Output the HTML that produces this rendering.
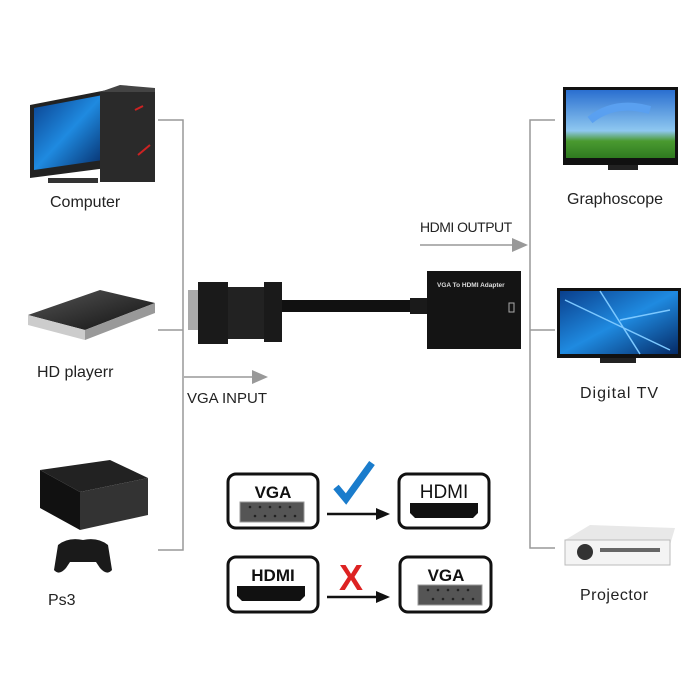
<!DOCTYPE html>
<html><head><style>
html,body{margin:0;padding:0;background:#fff}
svg{display:block}
text{font-family:"Liberation Sans",sans-serif}
</style></head><body>
<svg width="700" height="700" viewBox="0 0 700 700" xmlns="http://www.w3.org/2000/svg">
<defs>
<linearGradient id="scr" x1="0" y1="0" x2="1" y2="1"><stop offset="0" stop-color="#0a3f8c"/><stop offset=".5" stop-color="#1f8ae0"/><stop offset="1" stop-color="#052a66"/></linearGradient>
<linearGradient id="sky" x1="0" y1="0" x2="0" y2="1"><stop offset="0" stop-color="#2a6fd0"/><stop offset=".6" stop-color="#8fc8f0"/><stop offset=".75" stop-color="#4a9a30"/><stop offset="1" stop-color="#2f7a20"/></linearGradient>
<linearGradient id="blk" x1="0" y1="0" x2="1" y2="1"><stop offset="0" stop-color="#555"/><stop offset="1" stop-color="#111"/></linearGradient>
</defs>
<g stroke="#999" stroke-width="1.5" fill="none">
<path d="M158 120H183V550H158M158 330H183"/>
<path d="M555 120H530V548H555M555 330H530"/>
<path d="M184 377H255"/>
<path d="M420 245H515"/>
</g>
<polygon points="252,370 268,377 252,384" fill="#999"/>
<polygon points="512,238 528,245 512,252" fill="#999"/>
<text x="187" y="403" font-size="15" fill="#222">VGA INPUT</text>
<text x="420" y="232" font-size="14" fill="#222" letter-spacing="-0.5">HDMI OUTPUT</text>
<!-- computer -->
<polygon points="30,105 107,90 107,168 30,178" fill="#222"/>
<polygon points="34,108 103,95 103,160 34,170" fill="url(#scr)"/>
<rect x="48" y="178" width="50" height="5" fill="#333"/>
<rect x="100" y="92" width="55" height="90" fill="#2a2a2a"/>
<polygon points="100,92 120,85 155,88 155,92" fill="#444"/>
<path d="M135 110l8 -4M138 155l12-10" stroke="#c22" stroke-width="2"/>
<text x="50" y="207" font-size="16" fill="#222">Computer</text>
<!-- HD player -->
<polygon points="28,315 100,290 155,303 85,330" fill="url(#blk)"/>
<polygon points="28,315 85,330 85,340 28,325" fill="#ccc"/>
<polygon points="85,330 155,303 155,313 85,340" fill="#999"/>
<text x="37" y="377" font-size="16" fill="#222">HD playerr</text>
<!-- PS3 -->
<polygon points="40,470 110,460 148,478 80,492" fill="#222"/>
<polygon points="40,470 80,492 80,530 40,508" fill="#111"/>
<polygon points="80,492 148,478 148,515 80,530" fill="#333"/>
<path d="M58 545q10-8 25-5q15-3 25 5l4 25q-5 6-12-2l-4-6h-26l-4 6q-7 8-12 2z" fill="#1a1a1a"/>
<text x="48" y="605" font-size="16" fill="#222">Ps3</text>
<!-- Graphoscope -->
<rect x="563" y="87" width="115" height="78" fill="#111"/>
<rect x="566" y="90" width="109" height="68" fill="url(#sky)"/>
<path d="M590 120q25-20 60-10" stroke="#5aa0f0" stroke-width="8" fill="none"/>
<rect x="608" y="165" width="30" height="5" fill="#222"/>
<text x="567" y="204" font-size="16" fill="#222">Graphoscope</text>
<!-- Digital TV -->
<rect x="557" y="288" width="124" height="70" fill="#111"/>
<rect x="560" y="291" width="118" height="63" fill="url(#scr)"/>
<path d="M565 300L670 350M600 291L640 354M620 320l50-10" stroke="#7cc8ff" stroke-width="1.5"/>
<rect x="600" y="358" width="36" height="5" fill="#222"/>
<text x="580" y="398" font-size="16" fill="#222" letter-spacing="1">Digital TV</text>
<!-- Projector -->
<polygon points="565,540 590,525 675,528 670,545" fill="#e8e8e8"/>
<rect x="565" y="540" width="105" height="25" fill="#f4f4f4" stroke="#bbb"/>
<circle cx="585" cy="552" r="8" fill="#333"/>
<rect x="600" y="548" width="60" height="4" fill="#666"/>
<text x="580" y="600" font-size="16" fill="#222" letter-spacing="0.5">Projector</text>
<!-- cable + adapter -->
<rect x="188" y="290" width="10" height="40" fill="#aaa"/>
<rect x="198" y="282" width="30" height="62" fill="#1a1a1a"/>
<rect x="228" y="287" width="36" height="52" fill="#222"/>
<rect x="264" y="282" width="18" height="60" fill="#1a1a1a"/>
<rect x="282" y="300" width="130" height="12" fill="#111"/>
<rect x="410" y="298" width="18" height="16" fill="#1a1a1a"/>
<rect x="427" y="271" width="94" height="78" fill="#141414"/>
<text x="437" y="287" font-size="6.5" font-weight="bold" fill="#ddd">VGA To HDMI Adapter</text>
<rect x="509" y="303" width="5" height="9" fill="none" stroke="#aaa"/>
<!-- bottom icons -->
<g fill="none" stroke="#111" stroke-width="3">
<rect x="228" y="474" width="90" height="54" rx="8"/>
<rect x="399" y="474" width="90" height="54" rx="8"/>
<rect x="228" y="557" width="90" height="55" rx="8"/>
<rect x="400" y="557" width="91" height="55" rx="8"/>
</g>
<g font-weight="bold" font-size="17" fill="#111" text-anchor="middle">
<text x="273" y="498">VGA</text>
<text x="444" y="498" font-weight="normal" font-size="19">HDMI</text>
<text x="273" y="581">HDMI</text>
<text x="446" y="581">VGA</text>
</g>
<rect x="240" y="502" width="64" height="20" fill="#555" stroke="#999"/>
<rect x="418" y="585" width="64" height="20" fill="#555" stroke="#999"/>
<g fill="#222"><circle cx="250" cy="507" r="1.3"/><circle cx="260" cy="507" r="1.3"/><circle cx="270" cy="507" r="1.3"/><circle cx="280" cy="507" r="1.3"/><circle cx="290" cy="507" r="1.3"/><circle cx="255" cy="516" r="1.3"/><circle cx="265" cy="516" r="1.3"/><circle cx="275" cy="516" r="1.3"/><circle cx="285" cy="516" r="1.3"/><circle cx="295" cy="516" r="1.3"/>
<circle cx="428" cy="590" r="1.3"/><circle cx="438" cy="590" r="1.3"/><circle cx="448" cy="590" r="1.3"/><circle cx="458" cy="590" r="1.3"/><circle cx="468" cy="590" r="1.3"/><circle cx="433" cy="599" r="1.3"/><circle cx="443" cy="599" r="1.3"/><circle cx="453" cy="599" r="1.3"/><circle cx="463" cy="599" r="1.3"/><circle cx="473" cy="599" r="1.3"/></g>
<path d="M410 503h68v10l-5 5h-58l-5-5z" fill="#111"/>
<path d="M237 586h68v10l-5 5h-58l-5-5z" fill="#111"/>
<g stroke="#111" stroke-width="2.5"><path d="M327 514H378"/><path d="M327 597H378"/></g>
<polygon points="376,508 390,514 376,520" fill="#111"/>
<polygon points="376,591 390,597 376,603" fill="#111"/>
<path d="M336 487l10 12l26-36" stroke="#1a7ccc" stroke-width="7" fill="none"/>
<text x="351" y="590" font-size="36" font-weight="bold" fill="#d22" text-anchor="middle">X</text>
</svg>
</body></html>
